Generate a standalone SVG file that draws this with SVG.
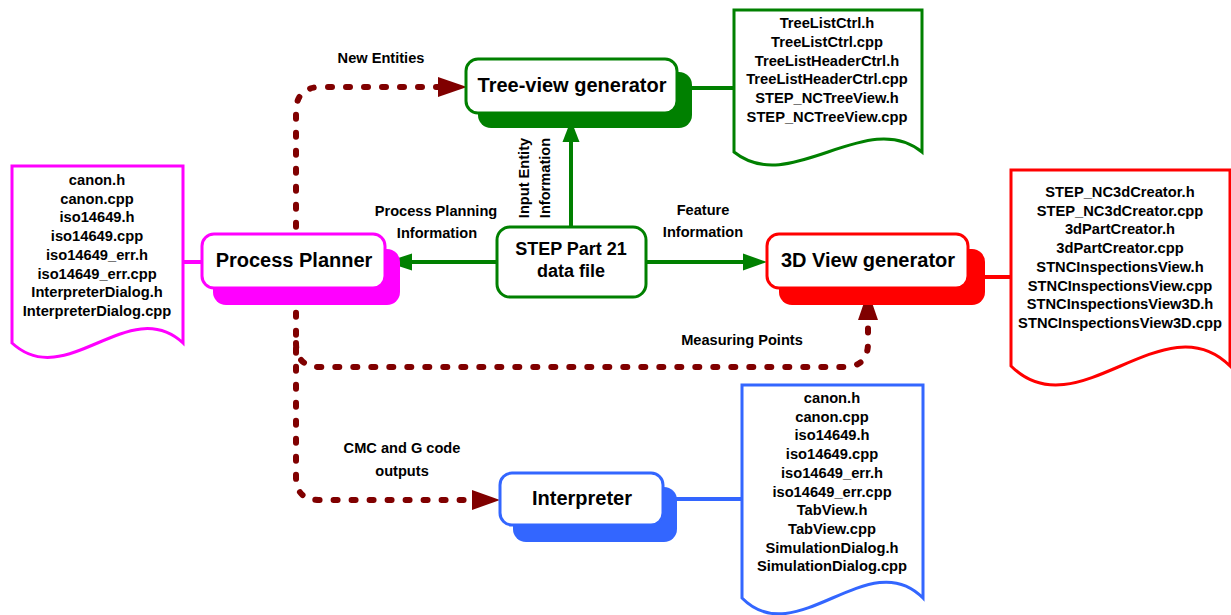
<svg xmlns="http://www.w3.org/2000/svg" width="1231" height="615" viewBox="0 0 1231 615">
<style>
text{font-family:"Liberation Sans",Arial,sans-serif;font-weight:bold;fill:#000}
.doc{fill:#fff;stroke-width:3}
.ft{font-size:14.7px;text-anchor:middle}
.lbl{font-size:14.6px;text-anchor:middle}
.nt{font-size:20px;text-anchor:middle}
.box{fill:#fff;stroke-width:3}
.dash{fill:none;stroke:#800000;stroke-width:6;stroke-dasharray:4 14;stroke-linecap:round}
.ln{fill:none;stroke-width:4}
</style>
<rect width="1231" height="615" fill="#fff"/>
<g id="connectors">
  <path class="dash" d="M440,87 H321 Q296,87 296,112 V477 Q296,500 319,500 H472"/>
  <path class="dash" d="M296,343 Q296,367 320,367 H844 Q868,367 868,343 V320"/>
  <polygon points="467,87 438,77 438,97" fill="#800000"/>
  <polygon points="500,500 472,490 472,510" fill="#800000"/>
  <polygon points="868,291 858,320 878,320" fill="#800000"/>
  <line class="ln" stroke="#008000" x1="497" y1="262" x2="405" y2="262"/>
  <polygon points="386,262 412,253.5 412,270.5" fill="#008000"/>
  <line class="ln" stroke="#008000" x1="646" y1="262" x2="748" y2="262"/>
  <polygon points="767,262 743,253.5 743,270.5" fill="#008000"/>
  <line class="ln" stroke="#008000" x1="571" y1="227" x2="571" y2="135"/>
  <polygon points="571,120 562.5,142 579.5,142" fill="#008000"/>
  <line class="ln" stroke="#ff00ff" x1="183" y1="262" x2="204" y2="262"/>
  <line class="ln" stroke="#008000" x1="690" y1="88" x2="734" y2="88"/>
  <line class="ln" stroke="#ff0000" x1="983" y1="277" x2="1011" y2="277"/>
  <line class="ln" stroke="#3366ff" x1="675" y1="499" x2="742" y2="499"/>
  <text class="lbl" x="381" y="63">New Entities</text>
  <text class="lbl" x="436" y="216">Process Planning</text>
  <text class="lbl" x="437" y="238">Information</text>
  <text class="lbl" x="703" y="215">Feature</text>
  <text class="lbl" x="703" y="237">Information</text>
  <text class="lbl" transform="translate(529,178) rotate(-90)">Input Entity</text>
  <text class="lbl" transform="translate(550,178) rotate(-90)">Information</text>
  <text class="lbl" x="742" y="345">Measuring Points</text>
  <text class="lbl" x="402" y="453">CMC and G code</text>
  <text class="lbl" x="402" y="476">outputs</text>
</g>
<g id="process-planner">
  <rect x="213" y="249" width="187" height="56" rx="13" fill="#ff00ff"/>
  <rect class="box" x="202" y="234" width="183" height="54" rx="12" stroke="#ff00ff"/>
  <text class="nt" x="294" y="267">Process Planner</text>
</g>
<g id="tree-view-generator">
  <rect x="478" y="72" width="214" height="56" rx="13" fill="#008000"/>
  <rect class="box" x="466" y="59" width="211" height="54" rx="12" stroke="#008000"/>
  <text class="nt" x="572" y="92">Tree-view generator</text>
</g>
<g id="view3d-generator">
  <rect x="779" y="249" width="206" height="56" rx="13" fill="#ff0000"/>
  <rect class="box" x="767" y="234" width="201" height="54" rx="12" stroke="#ff0000"/>
  <text class="nt" x="868" y="267">3D View generator</text>
</g>
<g id="interpreter">
  <rect x="513" y="487" width="164" height="55" rx="13" fill="#3366ff"/>
  <rect class="box" x="500" y="473" width="163" height="52" rx="12" stroke="#3366ff"/>
  <text class="nt" x="582" y="505">Interpreter</text>
</g>
<g id="step-file">
  <rect class="box" x="497" y="227" width="149" height="70" rx="13" stroke="#008000"/>
  <text x="571" y="255" style="font-size:18px;text-anchor:middle">STEP Part 21</text>
  <text x="571" y="277" style="font-size:18px;text-anchor:middle">data file</text>
</g>
<g id="doc-planner">
  <path class="doc" stroke="#ff00ff" d="M12,166 H183 V343 C129,293 66,393 12,343 Z"/>
  <text class="ft" x="97" y="185">canon.h</text>
  <text class="ft" x="97" y="203.7">canon.cpp</text>
  <text class="ft" x="97" y="222.4">iso14649.h</text>
  <text class="ft" x="97" y="241.1">iso14649.cpp</text>
  <text class="ft" x="97" y="259.8">iso14649_err.h</text>
  <text class="ft" x="97" y="278.5">iso14649_err.cpp</text>
  <text class="ft" x="97" y="297.2">InterpreterDialog.h</text>
  <text class="ft" x="97" y="316">InterpreterDialog.cpp</text>
</g>
<g id="doc-tree">
  <path class="doc" stroke="#008000" d="M734,10 H922 V152 C866,107 790,197 734,152 Z"/>
  <text class="ft" x="827" y="28">TreeListCtrl.h</text>
  <text class="ft" x="827" y="46.8">TreeListCtrl.cpp</text>
  <text class="ft" x="827" y="65.6">TreeListHeaderCtrl.h</text>
  <text class="ft" x="827" y="84.4">TreeListHeaderCtrl.cpp</text>
  <text class="ft" x="827" y="103.2">STEP_NCTreeView.h</text>
  <text class="ft" x="827" y="122">STEP_NCTreeView.cpp</text>
</g>
<g id="doc-3d">
  <path class="doc" stroke="#ff0000" d="M1011,170 H1230 V366 C1164,300 1077,432 1011,366 Z"/>
  <text class="ft" x="1120" y="197">STEP_NC3dCreator.h</text>
  <text class="ft" x="1120" y="215.7">STEP_NC3dCreator.cpp</text>
  <text class="ft" x="1120" y="234.4">3dPartCreator.h</text>
  <text class="ft" x="1120" y="253.1">3dPartCreator.cpp</text>
  <text class="ft" x="1120" y="271.8">STNCInspectionsView.h</text>
  <text class="ft" x="1120" y="290.5">STNCInspectionsView.cpp</text>
  <text class="ft" x="1120" y="309.2">STNCInspectionsView3D.h</text>
  <text class="ft" x="1120" y="328">STNCInspectionsView3D.cpp</text>
</g>
<g id="doc-interpreter">
  <path class="doc" stroke="#3366ff" d="M742,385 H923 V598 C869,543 796,653 742,598 Z"/>
  <text class="ft" x="832" y="403">canon.h</text>
  <text class="ft" x="832" y="421.7">canon.cpp</text>
  <text class="ft" x="832" y="440.4">iso14649.h</text>
  <text class="ft" x="832" y="459.1">iso14649.cpp</text>
  <text class="ft" x="832" y="477.8">iso14649_err.h</text>
  <text class="ft" x="832" y="496.5">iso14649_err.cpp</text>
  <text class="ft" x="832" y="515.2">TabView.h</text>
  <text class="ft" x="832" y="533.9">TabView.cpp</text>
  <text class="ft" x="832" y="552.6">SimulationDialog.h</text>
  <text class="ft" x="832" y="571.3">SimulationDialog.cpp</text>
</g>
</svg>
